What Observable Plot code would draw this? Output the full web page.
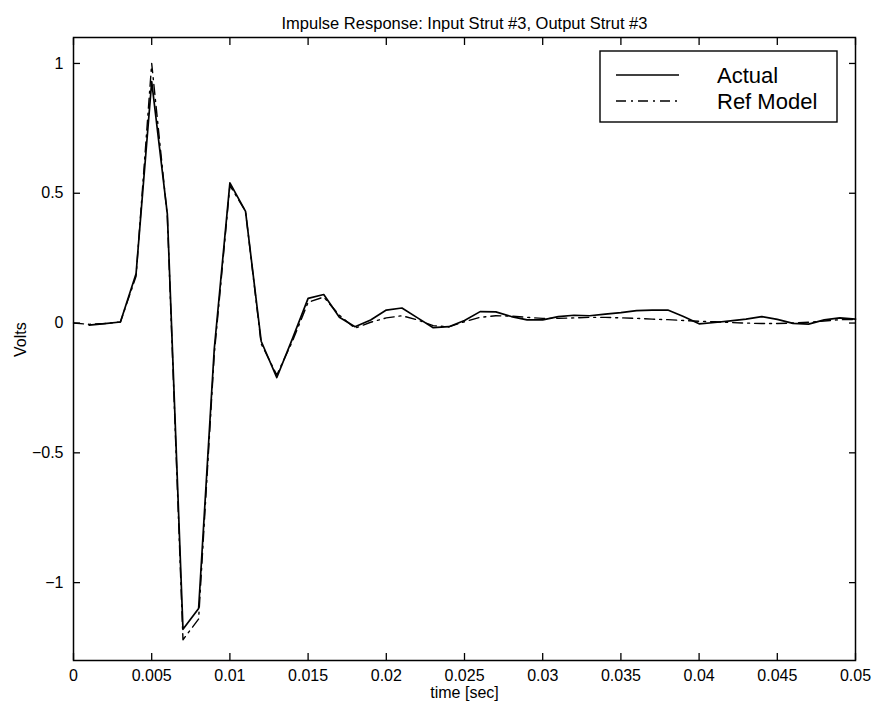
<!DOCTYPE html>
<html><head><meta charset="utf-8">
<script src="https://cdn.jsdelivr.net/npm/d3@7"></script>
<script src="https://cdn.jsdelivr.net/npm/@observablehq/plot@0.6"></script>
<style>body{margin:0;background:#fff} svg{display:block}</style>
</head><body><div id="chart"></div>
<script>
const time = [0,0.001,0.002,0.003,0.004,0.005,0.006,0.007,0.008,0.009,
  0.010,0.011,0.012,0.013,0.014,0.015,0.016,0.017,0.018,0.019,
  0.020,0.021,0.022,0.023,0.024,0.025,0.026,0.027,0.028,0.029,
  0.030,0.031,0.032,0.033,0.034,0.035,0.036,0.037,0.038,0.039,
  0.040,0.041,0.042,0.043,0.044,0.045,0.046,0.047,0.048,0.049,0.050];
const actual = [null,-0.008,-0.002,0.004,0.19,0.93,0.42,-1.18,-1.10,-0.10,
  0.54,0.43,-0.07,-0.21,-0.06,0.095,0.11,0.022,-0.014,0.012,
  0.05,0.058,0.02,-0.018,-0.014,0.01,0.044,0.043,0.025,0.012,
  0.012,0.025,0.03,0.028,0.034,0.04,0.048,0.05,0.05,0.025,
  -0.003,0.002,0.008,0.015,0.025,0.014,-0.001,-0.004,0.012,0.02,0.015];
const refModel = [0,-0.005,-0.002,0.004,0.18,1.0,0.41,-1.22,-1.14,-0.12,
  0.53,0.43,-0.08,-0.20,-0.07,0.08,0.10,0.03,-0.02,0.003,
  0.02,0.028,0.012,-0.01,-0.015,0.005,0.022,0.028,0.027,0.022,
  0.018,0.018,0.02,0.022,0.022,0.02,0.018,0.015,0.013,0.01,
  0.007,0.005,0.002,0.0,-0.002,-0.002,0.0,0.003,0.008,0.013,0.014];
const xTicks = [0,0.005,0.01,0.015,0.02,0.025,0.03,0.035,0.04,0.045,0.05];
const yTicks = [-1,-0.5,0,0.5,1];
const titleText = "Impulse Response: Input Strut #3, Output Strut #3";
const xLabel = "time [sec]";
const yLabel = "Volts";
const seriesNames = ["Actual", "Ref Model"];

const rows = time.map((t, i) => ({t, actual: actual[i], ref: refModel[i]}));
const fmt = d => String(+d.toFixed(3)).replace("-", "\u2212");
const font = "'Liberation Sans', Arial, Helvetica, sans-serif";
const dash = "10,5,2,5";

const plot = Plot.plot({
  width: 876, height: 709,
  marginTop: 37, marginLeft: 73, marginRight: 21, marginBottom: 49,
  style: {fontFamily: font, fontSize: "16px", background: "#fff", color: "#000"},
  x: {domain: [0, 0.05]},
  y: {domain: [-1.3, 1.1]},
  marks: [
    Plot.axisX(xTicks, {anchor: "bottom", tickSize: 7, dy: -7, text: null, label: null, strokeWidth: 1.3}),
    Plot.axisX(xTicks, {anchor: "top", tickSize: 7, dy: 7, text: null, label: null, strokeWidth: 1.3}),
    Plot.axisY(yTicks, {anchor: "left", tickSize: 7, dx: 7, text: null, label: null, strokeWidth: 1.3}),
    Plot.axisY(yTicks, {anchor: "right", tickSize: 7, dx: -7, text: null, label: null, strokeWidth: 1.3}),
    Plot.axisX(xTicks, {anchor: "bottom", tickSize: 0, tickPadding: 9, tickFormat: fmt, label: null, fontSize: 16}),
    Plot.axisY(yTicks, {anchor: "left", tickSize: 0, tickPadding: 10, tickFormat: fmt, label: null, fontSize: 16}),
    Plot.frame({stroke: "#000", strokeWidth: 1.5}),
    Plot.line(rows, {x: "t", y: "ref", stroke: "#000", strokeWidth: 1.4, strokeDasharray: dash}),
    Plot.line(rows, {x: "t", y: "actual", stroke: "#000", strokeWidth: 1.7}),
    Plot.text([titleText], {frameAnchor: "top", dy: -20, fontSize: 16.5}),
    Plot.text([xLabel], {frameAnchor: "bottom", dy: 37, fontSize: 16}),
    Plot.text([yLabel], {frameAnchor: "left", dx: -53, dy: 8, rotate: -90, fontSize: 16})
  ]
});
document.getElementById("chart").appendChild(plot);

// legend
const svg = d3.select(plot);
const lg = svg.append("g").attr("font-family", font).attr("text-anchor", "start");
lg.append("rect").attr("x", 600).attr("y", 51).attr("width", 237).attr("height", 71)
  .attr("fill", "#fff").attr("stroke", "#000").attr("stroke-width", 1.4);
const styles = [{dash: null, w: 1.7}, {dash: dash, w: 1.4}];
seriesNames.forEach((name, i) => {
  const y = 75 + i * 26;
  lg.append("line").attr("x1", 616).attr("x2", 679).attr("y1", y).attr("y2", y)
    .attr("stroke", "#000").attr("stroke-width", styles[i].w)
    .attr("stroke-dasharray", styles[i].dash);
  lg.append("text").attr("x", 717).attr("y", y + 8).attr("font-size", 22)
    .attr("text-anchor", "start").text(name);
});
</script>
</body></html>
